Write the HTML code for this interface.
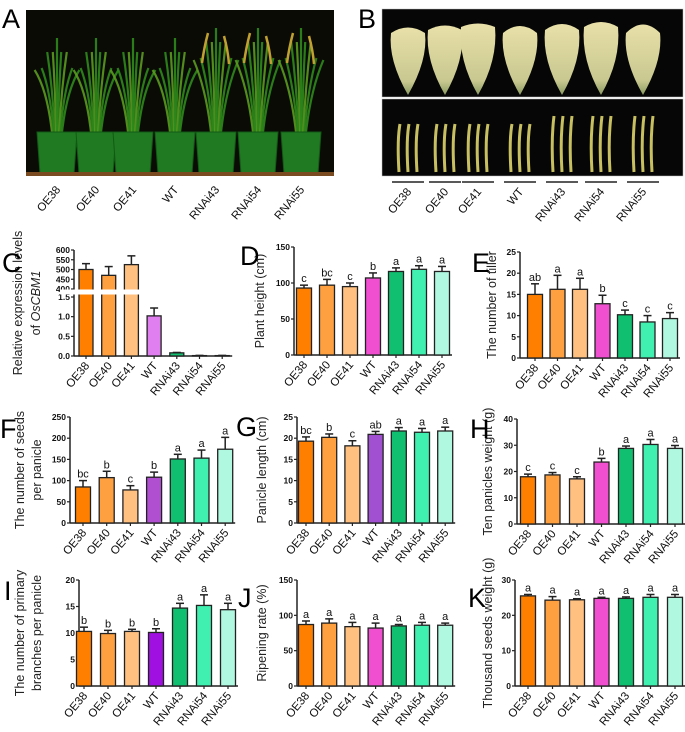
<!DOCTYPE html>
<html><head><meta charset="utf-8"><style>
body{margin:0;background:#fff;width:685px;height:727px;overflow:hidden}
svg{font-family:"Liberation Sans",sans-serif}
</style></head><body>
<svg id="fig" width="685" height="727" viewBox="0 0 685 727" xmlns="http://www.w3.org/2000/svg">
<defs>
<linearGradient id="panG" x1="0" y1="0" x2="0" y2="1"><stop offset="0" stop-color="#e8e0a8"/><stop offset="0.8" stop-color="#c8c890"/><stop offset="1" stop-color="#8a9a60"/></linearGradient>
</defs>
<g id="photoA">
<rect x="26" y="10" width="308" height="166" fill="#0b0b06"/>
</g>
<g id="photoB">
<rect x="382" y="9" width="301" height="88" fill="#060606" stroke="#bbb" stroke-width="0.5"/>
<rect x="382" y="99" width="301" height="77" fill="#060606" stroke="#bbb" stroke-width="0.5"/>
</g>
<g id="charts"></g>
</svg>
<script>
const groups=["OE38","OE40","OE41","WT","RNAi43","RNAi54","RNAi55"];
const baseColors=["#ff8000","#ffa040","#ffc080",null,"#10c070","#40f0b0","#b0f8e0"];
const potX=[57,96,133,175,216,258,301];
const panX=[408,445,478,520,562,601,643];

const cVals=[500,470,525,1.02,0.08,0.01,0.01];
const cErr=[530,515,570,1.22,0.09,0.015,0.015];
const dVals=[93,97,95,107,116,119,116];
const dErr=[97,105,100,114,121,124,123];
const dLet=["c","bc","c","b","a","a","a"];
const eVals=[15,16.2,16.2,12.8,10.2,8.5,9.3];
const eErr=[17.5,19.5,18.8,14.8,11.3,10,10.7];
const eLet=["ab","a","a","b","c","c","c"];
const fVals=[85,107,78,108,151,153,174];
const fErr=[100,122,88,120,162,172,202];
const fLet=["bc","b","c","b","a","a","a"];
const gVals=[19.3,20.2,18.2,20.9,21.7,21.4,21.7];
const gErr=[20.3,21,19.4,21.6,22.5,22.3,22.6];
const gLet=["bc","b","c","ab","a","a","a"];
const hVals=[18,18.7,17.2,23.6,28.8,30.3,28.8];
const hErr=[19,19.6,18,25,29.7,32.2,29.9];
const hLet=["c","c","c","b","a","a","a"];
const iVals=[10.3,9.9,10.3,10.1,14.7,15.2,14.4];
const iErr=[11.1,10.5,10.7,10.8,15.6,17.2,15.6];
const iLet=["b","b","b","b","a","a","a"];
const jVals=[87,89,84,82,85,86,86];
const jErr=[92,95,90,89,87,90,89];
const jLet=["a","a","a","a","a","a","a"];
const kVals=[25.5,24.3,24.4,24.8,24.8,25.1,25.1];
const kErr=[25.9,25.3,24.7,25.1,25.2,25.9,25.9];
const kLet=["a","a","a","a","a","a","a"];

const NS="http://www.w3.org/2000/svg";
const root=document.getElementById('charts');
function mk(tag,attrs,parent,text){const e=document.createElementNS(NS,tag);for(const k in attrs)e.setAttribute(k,attrs[k]);if(text!==undefined)e.textContent=text;(parent||root).appendChild(e);return e;}

const pa=document.getElementById('photoA');
const leafOff=[-16,-11,-7,-3,0,3,7,11,16];
potX.forEach((x,i)=>{
  const top=i>=4?28:38;
  leafOff.forEach((d,k)=>{
    const l=mk('path',{d:`M${x+d*0.3},134 Q${x+d*0.6},${90} ${x+d*1.4},${top+Math.abs(d)*2+(k%2)*8}`,stroke:k%3==0?'#5a9a20':'#2e8a1c','stroke-width':2.2,fill:'none',opacity:0.9},pa);
    
    
  });
  if(i>=4){
    const h=mk('path',{d:`M${x-8},${top+5} q-4,15 -6,30 M${x+8},${top+8} q4,15 5,28`,stroke:'#c0a030','stroke-width':2.5,fill:'none'},pa);
    
    
  }
  const pot=mk('path',{d:`M${x-20},132 L${x+20},132 L${x+17},174 L${x-17},174 Z`,fill:'#1f7a22',stroke:'#135a15','stroke-width':1},pa);
  
  
});
mk('rect',{x:26,y:172,width:308,height:4,fill:'#7a4a20'},pa);
const pb=document.getElementById('photoB');
panX.forEach((x,i)=>{
  const p=mk('path',{d:`M${x},95 Q${x-20},60 ${x-17},${33-i%3*3} Q${x},${22-i} ${x+17},${33-i%3*3} Q${x+20},60 ${x},95 Z`,fill:'url(#panG)'},pb);
  
  
  for(let k=-1;k<=1;k++){
    const s=mk('path',{d:`M${x+k*9},172 Q${x+k*9-2},140 ${x+k*9+1},${124-(i>3?8:0)}`,stroke:'#c8c060','stroke-width':3,fill:'none'},pb);
    
    
  }
  const ln=mk('line',{x1:x-16,x2:x+16,y1:182,y2:182,stroke:'#222','stroke-width':1.5},pb);
  
  
});
function rotLabels(xs,y,name){
  groups.forEach((g,i)=>{
    const t=mk('text',{x:xs[i]+4,y:y,'font-size':11.5,'text-anchor':'end',transform:`rotate(-50 ${xs[i]+4} ${y})`,fill:'#111'},root,g);
    
    
  });
}
rotLabels(potX,190,'photo-a-label');
rotLabels(panX,192,'photo-b-label');

function letter(t,x,y){const e=mk('text',{x:x,y:y,'font-size':27,fill:'#000'},root,t);}
letter('A',2,28);letter('B',358,28);

function chart(o){
  const g=mk('g',{});
  
  
  const X=i=>o.x0+o.off+i*o.sp;
  const Y=v=>o.y0-(v/o.max)*(o.y0-o.y1);
  const axY=mk('line',{x1:o.x0,x2:o.x0,y1:o.y1,y2:o.y0,stroke:'#222','stroke-width':1.5},g);
  
  
  const axX=mk('line',{x1:o.x0,x2:X(6)+10,y1:o.y0,y2:o.y0,stroke:'#222','stroke-width':1.5},g);
  
  
  o.ticks.forEach(t=>{
    mk('line',{x1:o.x0-3,x2:o.x0,y1:Y(t),y2:Y(t),stroke:'#222','stroke-width':1.2},g);
    const tl=mk('text',{x:o.x0-4,y:Y(t)+3,'font-size':8.5,'font-weight':'bold','text-anchor':'end',fill:'#111'},g,String(t));
    
    
  });
  o.vals.forEach((v,i)=>{
    const c=baseColors[i]||o.wt;
    mk('line',{x1:X(i),x2:X(i),y1:Y(v),y2:Y(o.err[i]),stroke:'#222','stroke-width':1.5},g);
    mk('line',{x1:X(i)-4,x2:X(i)+4,y1:Y(o.err[i]),y2:Y(o.err[i]),stroke:'#222','stroke-width':1.5},g);
    const b=mk('rect',{x:X(i)-7.5,y:Y(v),width:15,height:o.y0-Y(v),fill:c,stroke:'#222','stroke-width':1.3},g);
    
    
    mk('line',{x1:X(i),x2:X(i),y1:o.y0,y2:o.y0+3,stroke:'#222','stroke-width':1.2},g);
    const lt=mk('text',{x:X(i),y:Y(o.err[i])-3,'font-size':11,'text-anchor':'middle',fill:'#111'},g,o.let[i]);
    
    
    const xl=mk('text',{x:X(i)+4,y:o.y0+10,'font-size':11.5,'text-anchor':'end',transform:`rotate(-50 ${X(i)+4} ${o.y0+10})`,fill:'#111'},g,groups[i]);
    
    
  });
  o.titles.forEach((t,k)=>{
    const tx=o.tx+k*17, ty=(o.y0+o.y1)/2;
    const tt=mk('text',{x:tx,y:ty,'font-size':12.5,'text-anchor':'middle',transform:`rotate(-90 ${tx} ${ty})`,fill:'#222'},g,t);
    
    
  });
}
chart({name:'chart-plant-height',x0:294,off:10,sp:23,y0:355,y1:247,max:150,ticks:[0,50,100,150],vals:dVals,err:dErr,let:dLet,wt:'#f050d0',titles:['Plant height (cm)'],tx:264});
chart({name:'chart-tiller',x0:520,off:15,sp:22.5,y0:358,y1:252,max:25,ticks:[0,5,10,15,20,25],vals:eVals,err:eErr,let:eLet,wt:'#f050d0',titles:['The number of tiller'],tx:496});
chart({name:'chart-seeds',x0:70,off:13,sp:23.7,y0:523,y1:417,max:250,ticks:[0,50,100,150,200,250],vals:fVals,err:fErr,let:fLet,wt:'#b050d0',titles:['The number of seeds','per panicle'],tx:24});
chart({name:'chart-panicle-length',x0:297,off:9,sp:23.2,y0:523,y1:417,max:25,ticks:[0,5,10,15,20,25],vals:gVals,err:gErr,let:gLet,wt:'#a050d0',titles:['Panicle length (cm)'],tx:266});
chart({name:'chart-panicle-weight',x0:517,off:11,sp:24.5,y0:524,y1:419,max:40,ticks:[0,10,20,30,40],vals:hVals,err:hErr,let:hLet,wt:'#f050d0',titles:['Ten panicles weight (g)'],tx:492});
chart({name:'chart-primary-branches',x0:79,off:5,sp:24,y0:686,y1:580,max:20,ticks:[0,5,10,15,20],vals:iVals,err:iErr,let:iLet,wt:'#a010e0',titles:['The number of primary','branches per panicle'],tx:24});
chart({name:'chart-ripening',x0:297,off:9,sp:23.2,y0:686,y1:580,max:150,ticks:[0,50,100,150],vals:jVals,err:jErr,let:jLet,wt:'#f050d0',titles:['Ripening rate (%)'],tx:266});
chart({name:'chart-thousand-seeds',x0:515,off:13,sp:24.5,y0:686,y1:580,max:30,ticks:[0,10,20,30],vals:kVals,err:kErr,let:kLet,wt:'#f050d0',titles:['Thousand seeds weight (g)'],tx:492});

(function(){
  const g=mk('g',{});
  
  
  const x0=74,y0=356,X=i=>86+i*22.7;
  const Y=v=>v<=1.5?y0-(v/1.5)*(y0-297):289-((v-400)/200)*(289-250);
  mk('line',{x1:x0,x2:x0,y1:250,y2:y0,stroke:'#222','stroke-width':1.5},g);
  mk('line',{x1:x0,x2:X(6)+10,y1:y0,y2:y0,stroke:'#222','stroke-width':1.5},g);
  [0,0.5,1.0,1.5,400,450,500,550,600].forEach(t=>{
    mk('line',{x1:x0-3,x2:x0,y1:Y(t),y2:Y(t),stroke:'#222','stroke-width':1.2},g);
    const tl=mk('text',{x:x0-4,y:Y(t)+3,'font-size':8.5,'font-weight':'bold','text-anchor':'end',fill:'#111'},g,t<=1.5?t.toFixed(1):String(t));
    
    
  });
  cVals.forEach((v,i)=>{
    const c=baseColors[i]||'#e080f0';
    mk('line',{x1:X(i),x2:X(i),y1:Y(v),y2:Y(cErr[i]),stroke:'#222','stroke-width':1.5},g);
    mk('line',{x1:X(i)-4,x2:X(i)+4,y1:Y(cErr[i]),y2:Y(cErr[i]),stroke:'#222','stroke-width':1.5},g);
    const b=mk('rect',{x:X(i)-7,y:Y(v),width:14,height:y0-Y(v),fill:c,stroke:'#222','stroke-width':1.3},g);
    
    
    mk('line',{x1:X(i),x2:X(i),y1:y0,y2:y0+3,stroke:'#222','stroke-width':1.2},g);
    const xl=mk('text',{x:X(i)+4,y:y0+10,'font-size':11.5,'text-anchor':'end',transform:`rotate(-50 ${X(i)+4} ${y0+10})`,fill:'#111'},g,groups[i]);
    
    
  });
  const br=mk('rect',{x:60,y:289.5,width:95,height:5,fill:'#fff'},g);
  
  
  const t1=mk('text',{x:22,y:303,'font-size':12.5,'text-anchor':'middle',transform:'rotate(-90 22 303)',fill:'#222'},g,'Relative expression levels');
  
  
  const t2=mk('text',{x:40,y:303,'font-size':12.5,'text-anchor':'middle',transform:'rotate(-90 40 303)',fill:'#222'},g);
  
  
  t2.innerHTML='of <tspan font-style="italic">OsCBM1</tspan>';
})();
letter('C',2,272);letter('D',240,265);letter('E',472,272);
letter('F',0,438);letter('G',236,436);letter('H',470,438);
letter('I',4,600);letter('J',238,607);letter('K',468,607);
</script>
</body></html>
